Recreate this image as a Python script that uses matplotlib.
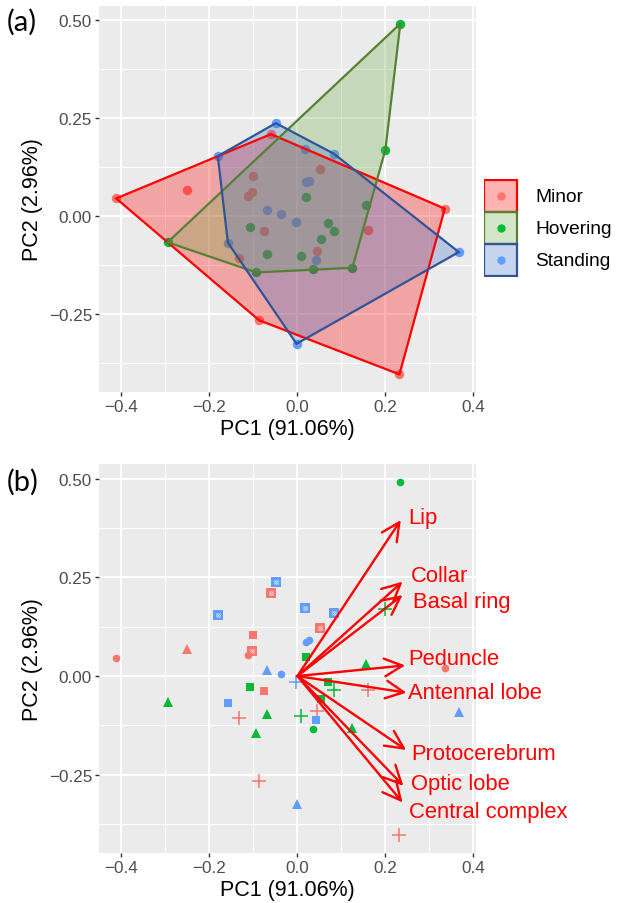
import numpy as np
import matplotlib
matplotlib.use("Agg")
import matplotlib.pyplot as plt
from matplotlib.patches import Polygon, Rectangle

plt.rcParams["font.family"] = ["Liberation Sans", "DejaVu Sans"]

# PCA scores
minor_x = [-0.412, -0.251, -0.060, -0.101, -0.104, -0.112, -0.075, -0.132,
           0.052, 0.045, 0.160, -0.087, 0.335, 0.232]
minor_y = [0.046, 0.068, 0.210, 0.104, 0.063, 0.053, -0.038, -0.107,
           0.121, -0.089, -0.034, -0.265, 0.020, -0.403]
minor_shape = ["circle", "triangle", "sqcross", "square", "sqcross", "circle", "square", "plus",
               "sqcross", "plus", "plus", "plus", "circle", "plus"]

hover_x = [0.234, 0.200, 0.156, 0.020, 0.070, 0.084, 0.054, 0.125,
           0.036, 0.009, -0.068, -0.093, -0.108, -0.295]
hover_y = [0.492, 0.170, 0.030, 0.049, -0.016, -0.036, -0.057, -0.131,
           -0.133, -0.100, -0.095, -0.143, -0.027, -0.066]
hover_shape = ["circle", "plus", "triangle", "square", "square", "plus", "square", "triangle",
               "circle", "plus", "triangle", "triangle", "square", "triangle"]

stand_x = [-0.049, -0.181, 0.017, 0.083, 0.019, 0.027, -0.068, -0.037,
           -0.003, -0.158, 0.042, -0.002, 0.367]
stand_y = [0.238, 0.154, 0.173, 0.160, 0.087, 0.091, 0.016, 0.005,
           -0.015, -0.067, -0.111, -0.325, -0.091]
stand_shape = ["sqcross", "sqcross", "sqcross", "sqcross", "circle", "circle", "triangle", "circle",
               "plus", "square", "square", "triangle", "triangle"]

groups = ["Minor", "Hovering", "Standing"]

# loadings (arrow tips) and their labels
var_names = ["Lip", "Collar", "Basal ring", "Peduncle", "Antennal lobe",
             "Protocerebrum", "Optic lobe", "Central complex"]
load_x = [0.235, 0.239, 0.239, 0.245, 0.248, 0.247, 0.241, 0.239]
load_y = [0.395, 0.239, 0.205, 0.027, -0.042, -0.187, -0.278, -0.320]
label_x = [0.252, 0.258, 0.263, 0.252, 0.252, 0.258, 0.258, 0.254]
label_y = [0.401, 0.255, 0.189, 0.044, -0.042, -0.197, -0.273, -0.344]

pt_col = {"Minor": "#F8766D", "Hovering": "#00BA38", "Standing": "#619CFF"}
fill_col = {"Minor": "#FF0000", "Hovering": "#70AD47", "Standing": "#4472C4"}
edge_col = {"Minor": "#FF0000", "Hovering": "#548235", "Standing": "#2F5597"}

data = {
    "Minor": (minor_x, minor_y, minor_shape),
    "Hovering": (hover_x, hover_y, hover_shape),
    "Standing": (stand_x, stand_y, stand_shape),
}


def hull(xs, ys):
    pts = sorted(set(zip(xs, ys)))

    def cross(o, a, b):
        return (a[0] - o[0]) * (b[1] - o[1]) - (a[1] - o[1]) * (b[0] - o[0])

    lower, upper = [], []
    for p in pts:
        while len(lower) >= 2 and cross(lower[-2], lower[-1], p) <= 0:
            lower.pop()
        lower.append(p)
    for p in reversed(pts):
        while len(upper) >= 2 and cross(upper[-2], upper[-1], p) <= 0:
            upper.pop()
        upper.append(p)
    return lower[:-1] + upper[:-1]


def style_ax(ax):
    ax.set_facecolor("#EBEBEB")
    ax.set_xlim(-0.451, 0.406)
    ax.set_ylim(-0.448, 0.537)
    ax.set_xticks([-0.4, -0.2, 0.0, 0.2, 0.4])
    ax.set_xticklabels(["\u22120.4", "\u22120.2", "0.0", "0.2", "0.4"])
    ax.set_yticks([-0.25, 0.0, 0.25, 0.5])
    ax.set_yticklabels(["\u22120.25", "0.00", "0.25", "0.50"])
    ax.set_xticks([-0.3, -0.1, 0.1, 0.3], minor=True)
    ax.set_yticks([-0.375, -0.125, 0.125, 0.375], minor=True)
    ax.grid(which="major", color="white", lw=1.4)
    ax.grid(which="minor", color="white", lw=0.7)
    ax.set_axisbelow(True)
    for s in ax.spines.values():
        s.set_visible(False)
    ax.tick_params(which="major", length=3, width=1, color="#333333",
                   labelcolor="#4D4D4D", labelsize=12.3, pad=2)
    ax.tick_params(which="minor", length=0)
    ax.set_xlabel("PC1 (91.06%)", fontsize=15.5, labelpad=3)
    ax.set_ylabel("PC2 (2.96%)", fontsize=15.5, labelpad=4)


fig = plt.figure(figsize=(6.17, 9.04), dpi=100)
W, H = 617, 904
ax1 = fig.add_axes([99 / W, 1 - 393 / H, 377 / W, 386 / H])
ax2 = fig.add_axes([99 / W, 1 - 854 / H, 377 / W, 389 / H])

# panel (a): points and hulls
for g in groups:
    xs, ys, _ = data[g]
    ax1.plot(xs, ys, "o", ms=6.8, color=pt_col[g], mew=0, zorder=2)
for g in groups:
    xs, ys, _ = data[g]
    poly = Polygon(hull(xs, ys), closed=True, facecolor=fill_col[g], alpha=0.3,
                   edgecolor="none", zorder=3)
    ax1.add_patch(poly)
    ax1.add_patch(Polygon(hull(xs, ys), closed=True, facecolor="none",
                          edgecolor=edge_col[g], lw=1.6, zorder=4))
style_ax(ax1)

# legend drawn by hand
lax = fig.add_axes([484 / W, 1 - 278 / H, 133 / W, 98 / H])
lax.set_xlim(0, 133)
lax.set_ylim(98, 0)
lax.axis("off")
for i, g in enumerate(groups):
    y0 = 1 + i * 32
    lax.add_patch(Rectangle((0, y0), 33, 31.5, facecolor=fill_col[g], alpha=0.3, edgecolor="none"))
    lax.add_patch(Rectangle((0, y0), 33, 31.5, facecolor="none", edgecolor=edge_col[g], lw=1.6))
    lax.plot(16.5, y0 + 15.75, "o", ms=6, color=pt_col[g], mew=0)
    lax.text(51, y0 + 16, g, fontsize=13.8, va="center", ha="left")

# panel (b): shapes + loadings
for g in groups:
    xs, ys, shp = data[g]
    c = pt_col[g]
    for x, y, s in zip(xs, ys, shp):
        if s == "circle":
            ax2.plot(x, y, "o", ms=5.5, color=c, mew=0, zorder=3)
        elif s == "triangle":
            ax2.plot(x, y, "^", ms=7.5, color=c, mew=0, zorder=3)
        elif s == "square":
            ax2.plot(x, y, "s", ms=5.8, color=c, mew=0, zorder=3)
        elif s == "plus":
            ax2.plot(x, y, "+", ms=10, color=c, mew=1.1, zorder=3)
        else:
            ax2.plot(x, y, "s", ms=6.5, color=c, mew=0, zorder=3)
            ax2.plot(x, y, "x", ms=3.2, color="white", mew=0.5, alpha=0.75, zorder=3)
            ax2.plot(x, y, "o", ms=2.6, mfc="none", mec="white", mew=0.4, alpha=0.75, zorder=3)

for tx, ty in zip(load_x, load_y):
    ax2.annotate("", xy=(tx, ty), xytext=(0, 0),
                 arrowprops=dict(arrowstyle="->,head_length=0.65,head_width=0.32",
                                 color="#FF0000", lw=1.7, mutation_scale=20,
                                 shrinkA=0, shrinkB=0), zorder=4)
for name, lx, ly in zip(var_names, label_x, label_y):
    ax2.text(lx, ly, name, color="#FF0000", fontsize=15.8, ha="left", va="center",
             clip_on=False, zorder=5)
style_ax(ax2)

fig.text(7 / W, 1 - 22 / H, "(a)", fontsize=21, family=["Lato", "DejaVu Sans"],
         va="center", ha="left")
fig.text(7 / W, 1 - 482 / H, "(b)", fontsize=21, family=["Lato", "DejaVu Sans"],
         va="center", ha="left")

fig.savefig("out.png", dpi=100, facecolor="white")
